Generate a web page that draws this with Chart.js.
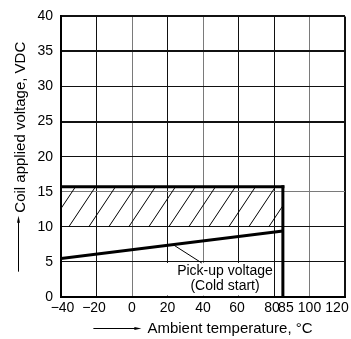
<!DOCTYPE html>
<html><head><meta charset="utf-8">
<script src="https://cdn.jsdelivr.net/npm/chart.js@4.4.0/dist/chart.umd.min.js"></script>
<style>html,body{margin:0;padding:0;background:#fff}#wrap{width:351px;height:339px;position:relative}</style>
</head><body><div id="wrap"><canvas id="c"></canvas></div>
<script>
// ---- data ----
const xTicks = [-40, -20, 0, 20, 40, 60, 80, 85, 100, 120];
const xTickLabels = ['−40', '−20', '0', '20', '40', '60', '80', '85', '100', '120'];
const yTicks = [0, 5, 10, 15, 20, 25, 30, 35, 40];
const pickupTemp = [-40, 85];
const pickupVolt = [5.5, 9.4];
const bandTemp = [-40, 85];
const bandTop = [15.7, 15.7];
const bandBottom = 10;
const limitTemp = [85, 85];
const limitVolt = [0, 15.7];
const leaderTemp = [23.1, 39.3];
const leaderVolt = [7.47, 4.85];
const noteLines = ['Pick-up voltage', '(Cold start)'];
const xTitle = 'Ambient temperature, °C';
const yTitle = 'Coil applied voltage, VDC';

// ---- styling helpers ----
const FONT = "'Liberation Sans', Arial, Helvetica, sans-serif";
Chart.defaults.font.family = FONT;
Chart.defaults.color = '#000';

const noteBox = {t0: 17.5, t1: 79, v1: 4.85};
const noteCenterTemp = 52.4;
const xLabelNudge = {'-40': 1.5, '-20': -2.5, '60': -1.5, '80': -2, '85': 3, '120': -8};

function makeHatch() {
  const w = 20, h = 30;
  const c = document.createElement('canvas'); c.width = w; c.height = h;
  const g = c.getContext('2d');
  g.strokeStyle = '#000'; g.lineWidth = 1;
  for (const off of [-w, 0, w]) { g.beginPath(); g.moveTo(off, h); g.lineTo(off + w, 0); g.stroke(); }
  return g.createPattern(c, 'repeat');
}
const pts = (xs, ys) => xs.map((x, i) => ({x, y: ys[i]}));

const decor = {
  id: 'decor',
  beforeDatasetsDraw(chart) {
    const {ctx, scales: {x, y}} = chart;
    const x0 = x.getPixelForValue(noteBox.t0), x1 = x.getPixelForValue(noteBox.t1);
    const y0 = y.getPixelForValue(noteBox.v1), y1 = y.getPixelForValue(0) - 1.5;
    ctx.save(); ctx.fillStyle = '#fff'; ctx.fillRect(x0, y0, x1 - x0, y1 - y0); ctx.restore();
  },
  afterDraw(chart) {
    const {ctx, chartArea: a, scales: {x, y}} = chart;
    ctx.save();
    ctx.fillStyle = '#000'; ctx.strokeStyle = '#000';
    // note text
    ctx.font = '14px ' + FONT; ctx.textAlign = 'center'; ctx.textBaseline = 'alphabetic';
    const cx = x.getPixelForValue(noteCenterTemp);
    ctx.fillText(noteLines[0], cx, a.bottom - 22);
    ctx.fillText(noteLines[1], cx, a.bottom - 7);
    // x tick labels
    xTicks.forEach((v, i) => {
      const px = x.getPixelForValue(v) + (xLabelNudge[String(v)] || 0);
      ctx.fillText(xTickLabels[i], px, a.bottom + 14.5);
    });
    // x title with arrow
    ctx.font = '15px ' + FONT; ctx.textAlign = 'left';
    const arrowLen = 48, gap = 6;
    let tw = ctx.measureText(xTitle).width;
    let gw = arrowLen + gap + tw;
    let sx = (a.left + a.right) / 2 - gw / 2;
    const ty = 333;
    ctx.fillText(xTitle, sx + arrowLen + gap, ty);
    ctx.lineWidth = 1;
    ctx.beginPath(); ctx.moveTo(sx, 328.5); ctx.lineTo(sx + arrowLen - 6, 328.5); ctx.stroke();
    ctx.beginPath(); ctx.moveTo(sx + arrowLen - 7, 327); ctx.lineTo(sx + arrowLen, 328.5); ctx.lineTo(sx + arrowLen - 7, 330); ctx.closePath(); ctx.fill();
    // y title with arrow (rotated)
    const yArrow = 56, ygap = 3;
    tw = ctx.measureText(yTitle).width;
    gw = yArrow + ygap + tw;
    ctx.translate(24.5, (a.top + a.bottom) / 2);
    ctx.rotate(-Math.PI / 2);
    const u0 = -gw / 2;
    ctx.fillText(yTitle, u0 + yArrow + ygap, 0);
    ctx.beginPath(); ctx.moveTo(u0, -6); ctx.lineTo(u0 + yArrow - 6, -6); ctx.stroke();
    ctx.beginPath(); ctx.moveTo(u0 + yArrow - 7, -7.5); ctx.lineTo(u0 + yArrow, -6); ctx.lineTo(u0 + yArrow - 7, -4.5); ctx.closePath(); ctx.fill();
    ctx.restore();
  }
};

const hatch = makeHatch();
const lineBase = {borderColor: '#000', pointRadius: 0, fill: false, tension: 0, borderCapStyle: 'square'};

new Chart(document.getElementById('c'), {
  type: 'line',
  data: {
    datasets: [
      Object.assign({}, lineBase, {data: pts(bandTemp, bandTop), borderWidth: 3, fill: {value: bandBottom}, backgroundColor: hatch}),
      Object.assign({}, lineBase, {data: pts(limitTemp, limitVolt), borderWidth: 3}),
      Object.assign({}, lineBase, {data: pts(pickupTemp, pickupVolt), borderWidth: 3, borderCapStyle: 'butt'}),
      Object.assign({}, lineBase, {data: pts(leaderTemp, leaderVolt), borderWidth: 1, borderCapStyle: 'butt'})
    ]
  },
  options: {
    responsive: true, maintainAspectRatio: false, animation: false,
    layout: {padding: {top: 13, right: 6, left: 0, bottom: 0}},
    plugins: {legend: {display: false}, tooltip: {enabled: false}},
    scales: {
      x: {
        type: 'linear', min: -40, max: 120,
        afterBuildTicks: s => { s.ticks = xTicks.map(v => ({value: v})); },
        afterFit: s => { s.height = 42; },
        ticks: {display: false},
        grid: {
          drawTicks: false,
          color: c => { const v = c.tick && c.tick.value; if (v === 85) return 'rgba(0,0,0,0)'; if (v === 0 || v === 40 || v === 100) return '#7a7a7a'; return '#111'; },
          lineWidth: c => { const v = c.tick && c.tick.value; return (v === 120 || v === -40) ? 2 : 1; }
        },
        border: {display: true, color: '#000', width: 2}
      },
      y: {
        type: 'linear', min: 0, max: 40,
        afterBuildTicks: s => { s.ticks = yTicks.map(v => ({value: v})); },
        afterFit: s => { s.width = 61; },
        ticks: {font: {size: 14, family: FONT}, color: '#000', padding: 8},
        grid: {
          drawTicks: false,
          color: c => { const v = c.tick && c.tick.value; if (v === 15) return '#7a7a7a'; return '#111'; },
          lineWidth: c => { const v = c.tick && c.tick.value; return (v === 40 || v === 35 || v === 25) ? 2 : 1; }
        },
        border: {display: true, color: '#000', width: 2}
      }
    }
  },
  plugins: [decor]
});
</script>
</body></html>
